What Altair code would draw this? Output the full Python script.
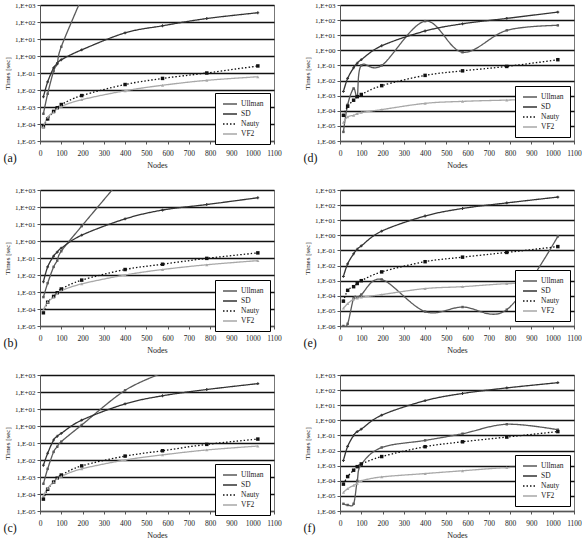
import altair as alt
import pandas as pd

nodes = [16, 36, 64, 81, 100, 196, 400, 576, 784, 1024]
series_names = ["Ullman", "SD", "Nauty", "VF2"]

# panel (a)
ullman_a = [4e-4, 6e-3, 0.13, 0.37, 3.5, 2500]
sd_a = [4e-3, 0.03, 0.2, 0.35, 0.6, 2.3, 23, 60, 160, 350]
nauty_a = [7e-5, 2e-4, 5.5e-4, 9e-4, 1.4e-3, 4.7e-3, 2.1e-2, 4.8e-2, 0.1, 0.26]
vf2_a = [7e-5, 2.5e-4, 5e-4, 8e-4, 1.1e-3, 2.7e-3, 9e-3, 1.9e-2, 3.7e-2, 6e-2]
# panel (b)
ullman_b = [5e-4, 3.3e-3, 0.03, 0.07, 0.25, 7.5, 8000]
sd_b = [4e-3, 0.03, 0.13, 0.22, 0.38, 2.2, 20, 66, 140, 350]
nauty_b = [6e-5, 2.5e-4, 5.5e-4, 9e-4, 1.5e-3, 5e-3, 2.1e-2, 4.3e-2, 9.5e-2, 0.2]
vf2_b = [9e-5, 2.5e-4, 5e-4, 8e-4, 1.2e-3, 3e-3, 1e-2, 2.1e-2, 4e-2, 7e-2]
# panel (c)
ullman_c = [4e-4, 3e-3, 0.03, 0.06, 0.12, 1.15, 125, 1300]
sd_c = [4.9e-3, 0.025, 0.15, 0.25, 0.37, 2.2, 20, 60, 140, 310]
nauty_c = [5e-5, 1.9e-4, 5e-4, 8.5e-4, 1.3e-3, 4.5e-3, 1.7e-2, 3.5e-2, 8.3e-2, 0.17]
vf2_c = [8e-5, 2.2e-4, 5e-4, 8e-4, 1.1e-3, 3e-3, 1e-2, 2e-2, 3.9e-2, 6.6e-2]
# panel (d)
ullman_d = [4e-6, 2.5e-4, 3e-3, 9e-4, 0.1, 0.1, 85, 0.75, 21, 45]
sd_d = [1.9e-3, 1.4e-2, 0.07, 0.14, 0.24, 2, 19, 57, 130, 340]
nauty_d = [5e-5, 2e-4, 5e-4, 8.6e-4, 1.2e-3, 4.6e-3, 2.2e-2, 4.4e-2, 8.6e-2, 0.24]
vf2_d = [1.7e-5, 4e-5, 5e-5, 6.5e-5, 7.7e-5, 1.2e-4, 3.1e-4, 4.2e-4, 5.1e-4, 6e-4]
# panel (e)
ullman_e = [1e-6, 1.4e-6, 7e-5, 8e-5, 1.2e-4, 1.2e-3, 9e-6, 1.8e-5, 1.2e-5, 0.85]
sd_e = [1.9e-3, 1.3e-2, 0.06, 0.12, 0.2, 1.9, 19, 60, 140, 340]
nauty_e = [4.4e-5, 2.3e-4, 4e-4, 6.5e-4, 1e-3, 3.8e-3, 1.8e-2, 3.6e-2, 7.4e-2, 0.18]
vf2_e = [1.5e-5, 3e-5, 6e-5, 7e-5, 8e-5, 1.2e-4, 3e-4, 4e-4, 6.3e-4, 8e-4]
# panel (f)
ullman_f = [3e-6, 2.5e-6, 3e-6, 1e-4, 1.2e-3, 1.6e-2, 4.7e-2, 0.13, 0.55, 0.24]
sd_f = [2.2e-3, 1.9e-2, 0.1, 0.18, 0.26, 2.2, 20, 60, 140, 310]
nauty_f = [6e-5, 1.9e-4, 5e-4, 8.6e-4, 1.3e-3, 4e-3, 1.8e-2, 3.8e-2, 7.8e-2, 0.18]
vf2_f = [1.7e-5, 3e-5, 5e-5, 6.7e-5, 1e-4, 1.8e-4, 3e-4, 4.6e-4, 7.4e-4, 9e-4]

x_ticks = list(range(0, 1101, 100))

colors = ["#5a5a5a", "#333333", "#111111", "#a8a8a8"]
dashes = [[1, 0], [1, 0], [1.5, 2], [1, 0]]
shapes = ["square", "cross", "square", "triangle-up"]
sizes = [6, 8, 12, 10]

FONT = "Liberation Serif"
label_expr = ("'1,E' + (datum.value >= 1 ? '+' : '-') + "
              "format(abs(round(log(datum.value) / LN10)), '02d')")


def panel(vals, ymin_exp, label, legend_y):
    rows = []
    for s, arr in zip(series_names, vals):
        for n, v in zip(nodes, arr):
            rows.append({"Nodes": n, "Time": v, "Series": s})
    df = pd.DataFrame(rows)
    yvals = [10.0 ** e for e in range(ymin_exp, 4)]
    x = alt.X("Nodes:Q",
              scale=alt.Scale(domain=[0, 1100], nice=False, zero=False),
              axis=alt.Axis(values=x_ticks, title="Nodes", grid=False, format="d",
                            labelOverlap=False, labelFlush=False, labelPadding=5,
                            labelFontSize=7.5, titleFontSize=8, titlePadding=5))
    y = alt.Y("Time:Q",
              scale=alt.Scale(type="log", domain=[10.0 ** ymin_exp, 1000], nice=False),
              axis=alt.Axis(values=yvals, title="Times [sec]", grid=True,
                            labelOverlap=False, labelFlush=False, labelPadding=2,
                            labelExpr=label_expr, labelFontSize=7, titleFontSize=7,
                            titlePadding=4))
    leg = alt.Legend(title=None, orient="none", legendX=175, legendY=legend_y,
                     symbolType="M-0.75,0L2.75,0", symbolSize=64, symbolStrokeWidth=1.3,
                     symbolFillColor="transparent",
                     strokeColor="black", fillColor="white", padding=6,
                     labelFont=FONT, labelFontSize=7.5, labelColor="#222",
                     rowPadding=1, labelOffset=10, cornerRadius=0)
    line = alt.Chart(df).mark_line(interpolate="cardinal", clip=True, strokeWidth=1.3).encode(
        x=x, y=y,
        color=alt.Color("Series:N", scale=alt.Scale(domain=series_names, range=colors),
                        legend=leg, sort=series_names),
        strokeDash=alt.StrokeDash("Series:N", scale=alt.Scale(domain=series_names, range=dashes),
                                  legend=leg, sort=series_names),
    )
    layers = [line]
    for s, c, shp, sz in zip(series_names, colors, shapes, sizes):
        layers.append(
            alt.Chart(df).transform_filter(alt.datum.Series == s).mark_point(
                filled=True, clip=True, opacity=1, strokeWidth=0, shape=shp, size=sz, fill=c
            ).encode(x=x, y=y)
        )
    return alt.layer(*layers).properties(
        width=234, height=136,
        title=alt.TitleParams(label, orient="bottom", anchor="start", dy=-21,
                              fontSize=12, font=FONT, fontWeight="normal", color="#111"),
    )


pa = panel([ullman_a, sd_a, nauty_a, vf2_a], -5, "(a)", 88)
pb = panel([ullman_b, sd_b, nauty_b, vf2_b], -5, "(b)", 90)
pc = panel([ullman_c, sd_c, nauty_c, vf2_c], -5, "(c)", 89)
pdd = panel([ullman_d, sd_d, nauty_d, vf2_d], -6, "(d)", 81)
pe = panel([ullman_e, sd_e, nauty_e, vf2_e], -6, "(e)", 80)
pf = panel([ullman_f, sd_f, nauty_f, vf2_f], -6, "(f)", 80)

chart = alt.concat(pa, pdd, pb, pe, pc, pf, columns=2,
                   spacing={"row": 15, "column": 21}).resolve_scale(
    color="independent", strokeDash="independent", y="independent", x="independent"
).properties(
    padding={"left": 3, "top": 0, "right": 0, "bottom": 0}, background="white"
).configure_axis(
    labelFont=FONT, titleFont=FONT, titleFontWeight="normal",
    labelColor="#222", titleColor="#222",
    domainColor="#555", tickColor="#555", tickSize=3,
    gridColor="#111", gridWidth=1.3,
).configure_view(stroke="#777", strokeWidth=1)

chart.save("out.html", embed_options={"renderer": "svg", "actions": False})
